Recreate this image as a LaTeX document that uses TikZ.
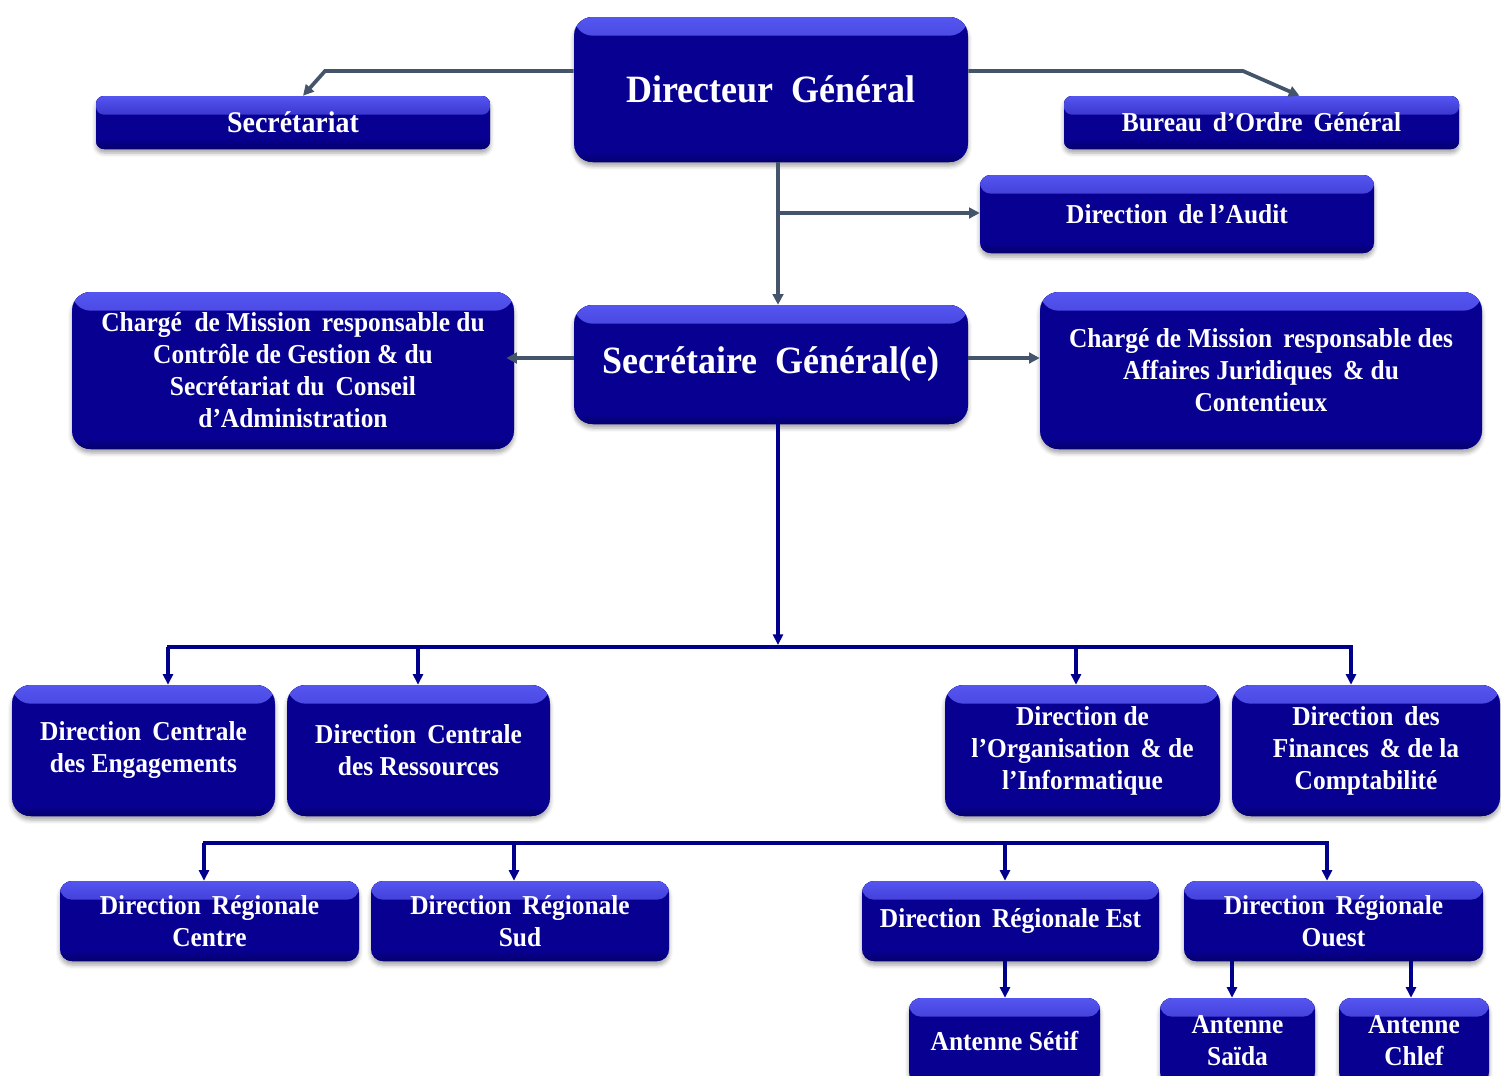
\documentclass[tikz,border=0pt]{standalone}
\usepackage{fontspec}
\setmainfont{Liberation Serif}[FakeStretch=0.93]
\usetikzlibrary{arrows.meta,calc,shadows.blur}
\definecolor{boxc}{RGB}{8,0,145}
\definecolor{boxhi}{RGB}{85,85,240}
\definecolor{boxlo}{RGB}{4,0,110}
\definecolor{grayc}{RGB}{68,84,106}
\definecolor{navyc}{RGB}{0,0,140}
\newcommand\wsp{\hspace{0.4em}}
\tikzset{
  box/.style={fill=boxc, text=white, align=center, inner sep=0pt, rounded corners=14pt,
    font=\fontsize{20.5}{24}\selectfont\bfseries,
    blur shadow={shadow xshift=0pt, shadow yshift=-3pt, shadow blur radius=3pt, shadow opacity=35},
    path picture={
      \fill[top color=boxhi, bottom color=boxc] (path picture bounding box.north west) rectangle ([yshift=-14pt]path picture bounding box.north east);
      \fill[top color=boxc, bottom color=boxlo] ([yshift=8pt]path picture bounding box.south west) rectangle (path picture bounding box.south east);
    }},
  wh/.style 2 args={minimum width=#1*0.75pt, minimum height=#2*0.75pt},
  bigtxt/.style={font=\fontsize{29}{32}\selectfont\bfseries},
  gl/.style={draw=grayc, line width=2.8pt, -{Triangle[length=8pt,width=8pt]}},
  nline/.style={draw=navyc, line width=2.8pt},
  nl/.style={nline, -{Triangle[length=8pt,width=7.5pt]}}
}
\begin{document}
\begin{tikzpicture}[x=0.75pt,y=-0.75pt]
\useasboundingbox (0,0) rectangle (1501,1075);
% boxes
\node[box, bigtxt, wh={394}{145}] (dg) at (771,89.5) {\raisebox{-3pt}{Directeur\ \ Général}};
\node[box, rounded corners=6pt, font=\fontsize{22.5}{26}\selectfont\bfseries, wh={394}{53}] (sec) at (293,122.5) {\raisebox{-2pt}{Secrétariat}};
\node[box, rounded corners=6pt, wh={395}{53}] (bog) at (1261.5,122.5) {Bureau\wsp d’Ordre\wsp Général};
\node[box, rounded corners=8pt, wh={394}{78}] (aud) at (1177,214) {Direction\wsp de l’Audit};
\node[box, wh={442}{157}] (cml) at (293,370.5) {Chargé\ \ de Mission\wsp responsable du\\Contrôle de Gestion \& du\\Secrétariat du\wsp Conseil\\d’Administration};
\node[box, bigtxt, wh={394}{119}] (sg) at (771,364.5) {\raisebox{-2pt}{Secrétaire\ \ Général(e)}};
\node[box, wh={442}{157}] (cmr) at (1261,370.5) {Chargé de Mission\wsp responsable des\\Affaires Juridiques\wsp \& du\\Contentieux};
\node[box, wh={263}{131}] (dce) at (143.5,750.5) {Direction\wsp Centrale\\des Engagements};
\node[box, wh={263}{131}] (dcr) at (418.5,750.5) {Direction\wsp Centrale\\des Ressources};
\node[box, wh={275}{131}] (doi) at (1082.5,750.5) {Direction de\\l’Organisation\wsp \& de\\l’Informatique};
\node[box, wh={268}{131}] (dfc) at (1366,750.5) {Direction\wsp des\\Finances\wsp \& de la\\Comptabilité};
\node[box, rounded corners=9pt, wh={299}{80}] (drc) at (209.5,921) {Direction\wsp Régionale\\Centre};
\node[box, rounded corners=9pt, wh={298}{80}] (drs) at (520,921) {Direction\wsp Régionale\\Sud};
\node[box, rounded corners=9pt, wh={297}{80}] (dre) at (1010.5,921) {Direction\wsp Régionale Est};
\node[box, rounded corners=9pt, wh={299}{80}] (dro) at (1333.5,921) {Direction\wsp Régionale\\Ouest};
\node[box, rounded corners=9pt, wh={191}{86}] (set) at (1004.5,1041) {Antenne Sétif};
\node[box, rounded corners=9pt, wh={155}{86}] (sai) at (1237.5,1041) {Antenne\\Saïda};
\node[box, rounded corners=9pt, wh={150}{86}] (chl) at (1414,1041) {Antenne\\Chlef};
% coordinates
\coordinate (k1) at (325,71);
\coordinate (k2) at (1243,71);
\coordinate (vx) at (778,0);
\coordinate (ka) at (778,213);
\coordinate (ky) at (0,358);
\coordinate (b1) at (778,647);
\coordinate (bl) at (168,647);
\coordinate (b2) at (418,647);
\coordinate (b3) at (1076,647);
\coordinate (br) at (1351,647);
\coordinate (cl) at (204,843);
\coordinate (c2) at (514,843);
\coordinate (c3) at (1005,843);
\coordinate (cr) at (1327,843);
\coordinate (a1) at (1005,0);
\coordinate (a2) at (1232,0);
\coordinate (a3) at (1411,0);
% gray connectors
\draw[gl] (dg.west |- k1) -- (k1) -- ($(sec.north)+(10,0)$);
\draw[gl] (dg.east |- k2) -- (k2) -- ($(bog.north)+(38,0)$);
\draw[gl] (vx |- dg.south) -- (vx |- sg.north);
\draw[gl] (ka) -- (ka -| aud.west);
\draw[gl] (sg.west |- ky) -- ($(cml.east |- ky)+(-8,0)$);
\draw[gl] (sg.east |- ky) -- (cmr.west |- ky);
% navy connectors
\draw[nl] (vx |- sg.south) -- ($(b1)+(0,-2)$);
\draw[nline] ($(bl)+(-1.5,0)$) -- ($(br)+(1.5,0)$);
\draw[nl] (bl) -- (bl |- dce.north);
\draw[nl] (b2) -- (b2 |- dcr.north);
\draw[nl] (b3) -- (b3 |- doi.north);
\draw[nl] (br) -- (br |- dfc.north);
\draw[nline] ($(cl)+(-1.5,0)$) -- ($(cr)+(1.5,0)$);
\draw[nl] (cl) -- (cl |- drc.north);
\draw[nl] (c2) -- (c2 |- drs.north);
\draw[nl] (c3) -- (c3 |- dre.north);
\draw[nl] (cr) -- (cr |- dro.north);
\draw[nl] (a1 |- dre.south) -- (a1 |- set.north);
\draw[nl] (a2 |- dro.south) -- (a2 |- sai.north);
\draw[nl] (a3 |- dro.south) -- (a3 |- chl.north);
\end{tikzpicture}
\end{document}
